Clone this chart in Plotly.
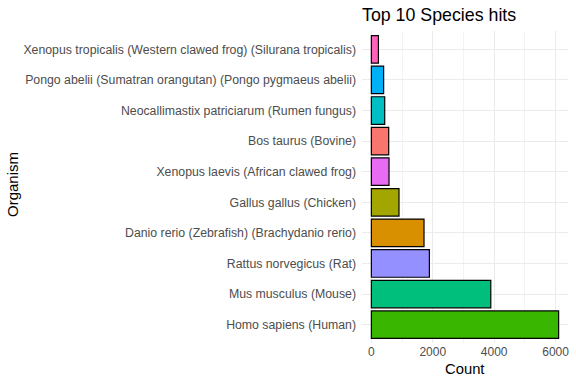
import plotly.graph_objects as go

organisms = [
    "Homo sapiens (Human)",
    "Mus musculus (Mouse)",
    "Rattus norvegicus (Rat)",
    "Danio rerio (Zebrafish) (Brachydanio rerio)",
    "Gallus gallus (Chicken)",
    "Xenopus laevis (African clawed frog)",
    "Bos taurus (Bovine)",
    "Neocallimastix patriciarum (Rumen fungus)",
    "Pongo abelii (Sumatran orangutan) (Pongo pygmaeus abelii)",
    "Xenopus tropicalis (Western clawed frog) (Silurana tropicalis)",
]
counts = [6100, 3890, 1890, 1715, 900, 575, 565, 435, 400, 230]
colors = ["#39B600", "#00BF7D", "#9590FF", "#D89000", "#A3A500",
          "#E76BF3", "#F8766D", "#00BFC4", "#00B0F6", "#FF62BC"]
x_ticks = [0, 2000, 4000, 6000]

L, R, T, B = 362, 8, 31, 41
W, H = 576, 384
pw, ph = W - L - R, H - T - B

fig = go.Figure(go.Bar(
    x=counts, y=organisms, orientation="h",
    marker=dict(color=colors, line=dict(color="black", width=1.2)),
    width=0.9,
))

fig.update_layout(
    width=W, height=H,
    margin=dict(l=L, r=R, t=T, b=B),
    paper_bgcolor="white", plot_bgcolor="white",
    showlegend=False,
    font=dict(family="Liberation Sans, Arial, sans-serif"),
    title=dict(text="Top 10 Species hits", x=L / W, xanchor="left",
               y=1 - 14.5 / H, yanchor="middle",
               font=dict(size=17.8, color="black")),
    xaxis=dict(range=[-305, 6405], tickvals=x_ticks, ticktext=[str(v) for v in x_ticks],
               automargin=False,
               showgrid=True, gridcolor="#EBEBEB", gridwidth=1,
               minor=dict(dtick=1000, tick0=0, showgrid=True, gridcolor="#F3F3F3", gridwidth=0.6),
               zeroline=False, showline=False, ticks="",
               tickfont=dict(size=12, color="#4D4D4D")),
    yaxis=dict(categoryorder="array", categoryarray=organisms, range=[-0.6, 9.6],
               automargin=False,
               showgrid=True, gridcolor="#EBEBEB", gridwidth=1,
               zeroline=False, showline=False, ticks="", ticklabelstandoff=5,
               tickfont=dict(size=12.3, color="#4D4D4D")),
    annotations=[
        dict(text="Count", xref="paper", yref="paper", x=0.5, xanchor="center",
             y=1 - (369 - T) / ph, yanchor="middle",
             showarrow=False, font=dict(size=14.8, color="black")),
        dict(text="Organism", xref="paper", yref="paper",
             x=(12 - L) / pw, xanchor="center",
             y=1 - (185 - T) / ph, yanchor="middle",
             showarrow=False, textangle=-90,
             font=dict(size=15, color="black")),
    ],
)

fig.write_html("out.html", config={"displayModeBar": False},
               post_script="document.body.style.margin='0';document.body.style.overflow='hidden';")
